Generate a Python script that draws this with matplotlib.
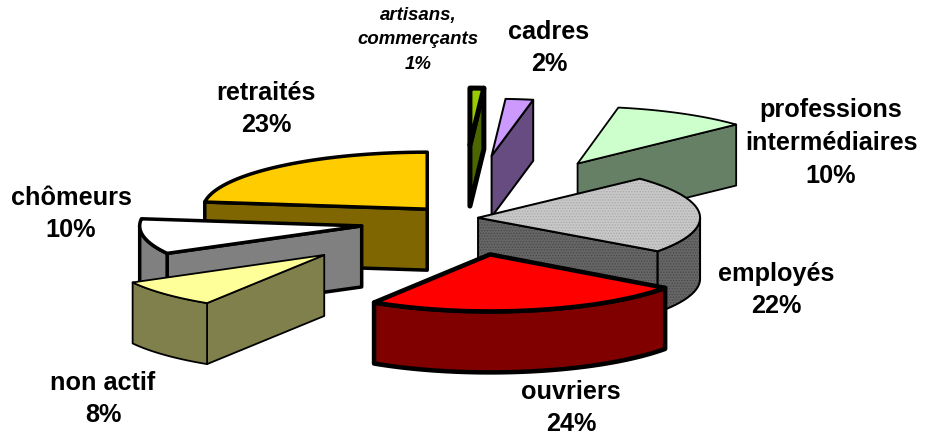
import numpy as np
import matplotlib
matplotlib.use("Agg")
import matplotlib.pyplot as plt
from matplotlib.patches import Polygon

plt.rcParams['font.family'] = ['Liberation Sans', 'DejaVu Sans']
plt.rcParams['hatch.linewidth'] = 0.6

# Data (clockwise from 12 o'clock)
categories = ["artisans,\ncommerçants", "cadres", "professions\nintermédiaires", "employés",
              "ouvriers", "non actif", "chômeurs", "retraités"]
values = [1, 2, 10, 22, 24, 8, 10, 23]

# Style
explode = [1.28, 1.10, 1.09, 0.077, 0.65, 0.845, 0.46, 0.23]
nudge_x = [0, 0, 0, 0, 2, 0, 1, 0]
nudge_y = [0, 0, 0, 0, 0, 4, 3, 1]
rx_scale = [1, 1, 0.98, 1, 0.975, 0.985, 1, 1.01]
top_colors = ["#99CC00", "#CC99FF", "#CCFFCC", "#C8C8C8", "#FF0000", "#FFFF99", "#FFFFFF", "#FFCC00"]
side_colors = ["#4C6600", "#664C80", "#668066", "#666666", "#800000", "#80804C", "#808080", "#806600"]
hatch_colors = [None, None, None, "#A8A8A8", None, None, None, None]
side_hatch = [None, None, None, "#484848", None, None, None, None]
edge_px = [5, 2, 1.8, 2, 4.5, 1.8, 3.5, 3.5]
draw_order = [7, 0, 1, 2, 3, 6, 5, 4]
label_xy = [(418, 40), (549, 48), (831, 143), (776, 290), (571, 408), (103, 399), (71, 214), (266, 109)]

CX, CY, RX, RY, H = 461, 218, 222, 57, 61
PX = 72 / 100  # points per pixel at dpi 100

fig = plt.figure(figsize=(9.3, 4.36), dpi=100, facecolor="white")
ax = fig.add_axes([0, 0, 1, 1])
ax.set_xlim(0, 930)
ax.set_ylim(436, 0)
ax.axis("off")


def rim(cx, cy, a1, a2, rx, dy=0.0):
    t = np.radians(np.linspace(a1, a2, max(int(abs(a2 - a1)) * 2, 2)))
    return np.column_stack([cx + rx * np.sin(t), cy - RY * np.cos(t) + dy])


def face(pts, fc, lw, hatch_color=None, z=1):
    if hatch_color:
        ax.add_patch(Polygon(pts, closed=True, facecolor=fc, edgecolor=hatch_color,
                             hatch="......", lw=0, zorder=z))
        ax.add_patch(Polygon(pts, closed=True, facecolor="none", edgecolor="black",
                             lw=lw * PX, joinstyle="round", zorder=z))
    else:
        ax.add_patch(Polygon(pts, closed=True, facecolor=fc, edgecolor="black",
                             lw=lw * PX, joinstyle="round", zorder=z))


total = sum(values)
edges = 360 * np.cumsum([0] + values) / total

for i in draw_order:
    a1, a2 = edges[i], edges[i + 1]
    mid = np.radians((a1 + a2) / 2)
    cx = CX + explode[i] * RX * np.sin(mid) + nudge_x[i]
    cy = CY - explode[i] * RY * np.cos(mid) + nudge_y[i]
    rx = RX * rx_scale[i]
    z = draw_order.index(i) + 1
    tip = np.array([cx, cy])
    down = np.array([0, H])

    def cut(a):
        p = rim(cx, cy, a, a + 1e-6, rx)[0]
        return np.array([tip, p, p + down, tip + down])

    if np.sin(np.radians(a1)) < 0:
        face(cut(a1), side_colors[i], edge_px[i], side_hatch[i], z)
    if np.sin(np.radians(a2)) > 0:
        face(cut(a2), side_colors[i], edge_px[i], side_hatch[i], z)
    lo, hi = max(a1, 90), min(a2, 270)
    if hi > lo:
        top = rim(cx, cy, lo, hi, rx)
        bottom = rim(cx, cy, hi, lo, rx, H)
        face(np.vstack([top, bottom]), side_colors[i], edge_px[i], side_hatch[i], z)
    face(np.vstack([tip, rim(cx, cy, a1, a2, rx)]), top_colors[i], edge_px[i], hatch_colors[i], z)

for i, (name, val) in enumerate(zip(categories, values)):
    small = i == 0
    ax.text(label_xy[i][0], label_xy[i][1], f"{name}\n{val}%", ha="center", va="center",
            ma="center", fontweight="bold", fontstyle="italic" if small else "normal",
            fontsize=(18.6 if small else 25.2) * PX, linespacing=1.55 if small else 1.45,
            color="black", zorder=20)

fig.savefig("out.png", dpi=100)
